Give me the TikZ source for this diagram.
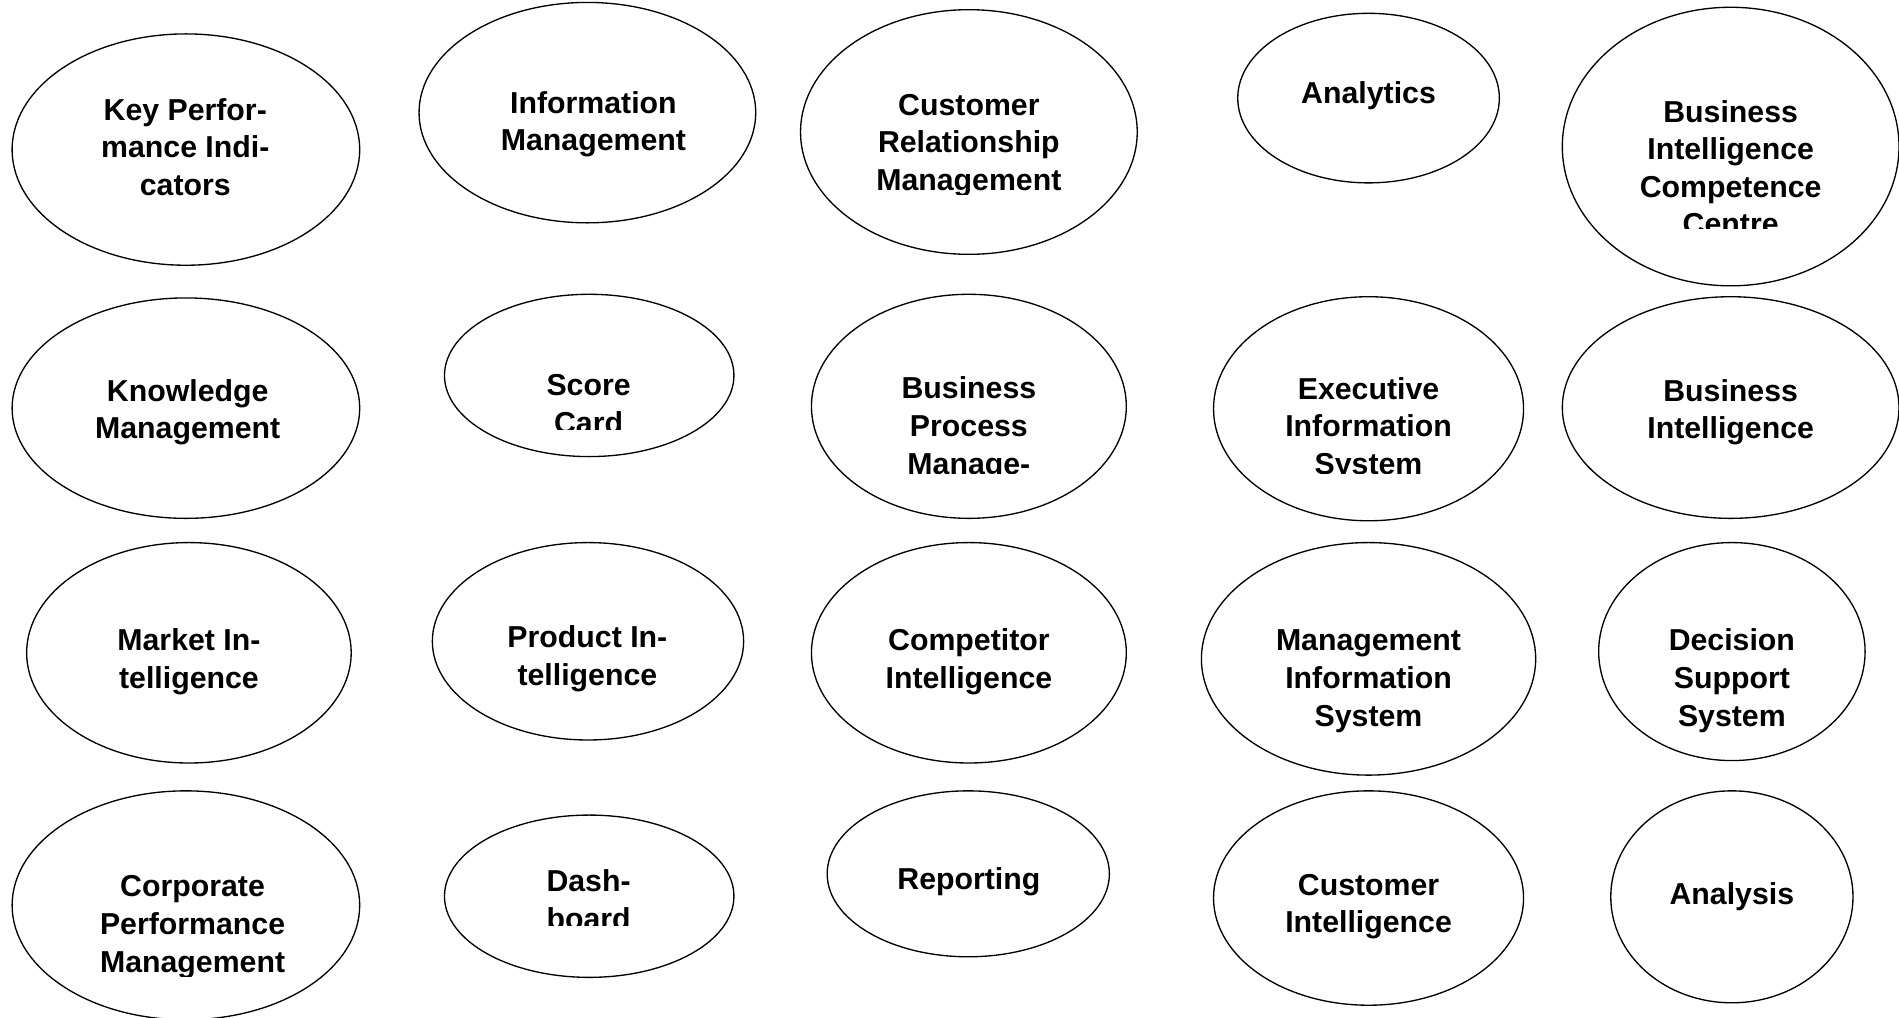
\documentclass[tikz,border=0pt]{standalone}
\usepackage{fontspec}
\setmainfont{Liberation Sans}
\usetikzlibrary{shapes.geometric}
\tikzset{
  bub/.style args={#1/#2}{draw=black, ellipse, line width=1.1pt, inner sep=0pt,
    minimum width=#1pt, minimum height=#2pt},
  lbl/.style={align=center, inner sep=0pt, font=\fontsize{25}{31}\selectfont\bfseries}
}
\begin{document}
\begin{tikzpicture}[x=1pt,y=-1pt]
\clip (0,0) rectangle (1568,840);
\fill[white] (0,0) rectangle (1568,840);
% ellipses
\node[bub=287/191] (e1) at (153.5,123.5) {};
\node[bub=278/182] (e2) at (485,93) {};
\node[bub=278/202] (e3) at (800,109) {};
\node[bub=216/140] (e4) at (1130,81) {};
\node[bub=278/230] (e5) at (1429,121) {};
\node[bub=287/182] (e6) at (153.5,337) {};
\node[bub=239/134] (e7) at (486.5,310) {};
\node[bub=260/185] (e8) at (800,335.5) {};
\node[bub=256/185] (e9) at (1130,337.5) {};
\node[bub=278/183] (e10) at (1429,336.5) {};
\node[bub=268/182] (e11) at (156,539) {};
\node[bub=257/163] (e12) at (485.5,529.5) {};
\node[bub=260/182] (e13) at (800,539) {};
\node[bub=276/192] (e14) at (1130,544) {};
\node[bub=220/180] (e15) at (1430,538) {};
\node[bub=287/189] (e16) at (153.5,747.5) {};
\node[bub=239/134] (e17) at (486.5,740) {};
\node[bub=233/137] (e18) at (799.5,721.5) {};
\node[bub=256/177] (e19) at (1130,741.5) {};
\node[bub=200/175] (e20) at (1430,740.5) {};
% labels
\node[lbl] (t1) at (153,121.5) {Key Perfor-\\mance Indi-\\cators};
\node[lbl] (t2) at (490,102.5) {Information\\Management};
\begin{scope}
\clip (600,0) rectangle (1000,161);
\node[lbl] (t3) at (800,120) {Customer\\Relationship\\Management};
\end{scope}
\node[lbl] (t4) at (1130,79) {Analytics};
\begin{scope}
\clip (1290,0) rectangle (1568,189);
\node[lbl] (t5) at (1429,138.5) {Business\\Intelligence\\Competence\\Centre};
\end{scope}
\node[lbl] (t6) at (155,340.5) {Knowledge\\Management};
\begin{scope}
\clip (367,240) rectangle (606,355);
\node[lbl] (t7) at (486,333.5) {Score\\Card};
\end{scope}
\begin{scope}
\clip (670,240) rectangle (930,391);
\node[lbl] (t8) at (800,354) {Business\\Process\\Manage-};
\end{scope}
\begin{scope}
\clip (1002,240) rectangle (1258,391);
\node[lbl] (t9) at (1130,354) {Executive\\Information\\System};
\end{scope}
\node[lbl] (t10) at (1429,340.5) {Business\\Intelligence};
\node[lbl] (t11) at (156,546.5) {Market In-\\telligence};
\node[lbl] (t12) at (485,544) {Product In-\\telligence};
\node[lbl] (t13) at (800,546.5) {Competitor\\Intelligence};
\node[lbl] (t14) at (1130,562.5) {Management\\Information\\System};
\node[lbl] (t15) at (1430,562) {Decision\\Support\\System};
\begin{scope}
\clip (10,650) rectangle (297,806);
\node[lbl] (t16) at (159,765.5) {Corporate\\Performance\\Management};
\end{scope}
\begin{scope}
\clip (367,670) rectangle (606,764);
\node[lbl] (t17) at (486,743) {Dash-\\board};
\end{scope}
\node[lbl] (t18) at (800,728) {Reporting};
\node[lbl] (t19) at (1130,748.5) {Customer\\Intelligence};
\node[lbl] (t20) at (1430,740) {Analysis};
\end{tikzpicture}
\end{document}
